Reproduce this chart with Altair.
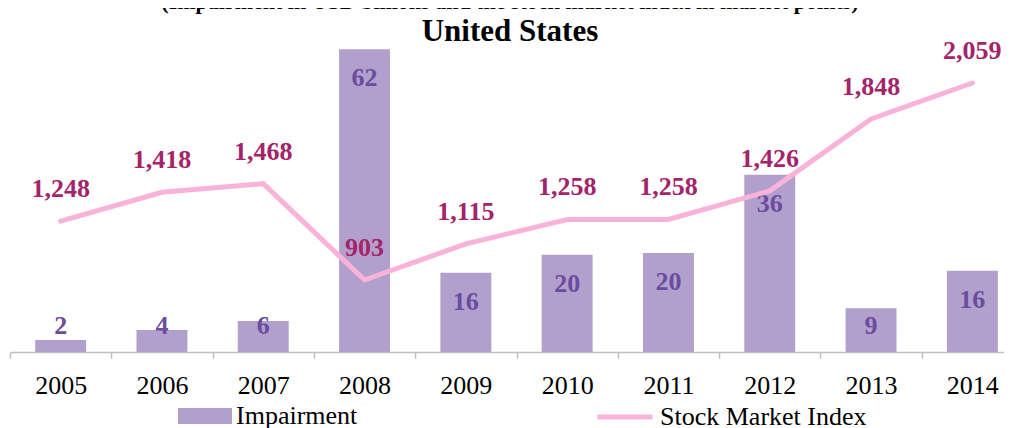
import altair as alt
import pandas as pd

# ---- data ----
years = ["2005", "2006", "2007", "2008", "2009", "2010", "2011", "2012", "2013", "2014"]
impairment = [2.45, 4.5, 6.35, 62.0, 16.25, 19.9, 20.3, 36.3, 8.95, 16.65]   # bar heights (USD bn)
impairment_labels = [2, 4, 6, 62, 16, 20, 20, 36, 9, 16]                  # printed labels
stock_index = [1248, 1418, 1468, 903, 1115, 1258, 1258, 1426, 1848, 2059]

title_line1 = "(Impairment in USD billions and the stock market index in market points)"
title_line2 = "United States"

BAR_COLOR = "#B2A0CC"
LINE_COLOR = "#F9B2D8"
BAR_LABEL_COLOR = "#6A4CA0"
LINE_LABEL_COLOR = "#A32469"
FONT = "Liberation Serif"

BAR_DOMAIN = [0, 62.27]
LINE_DOMAIN = [480.5, 2264.3]
PX_PER_UNIT = 304 / BAR_DOMAIN[1]

df = pd.DataFrame({
    "year": years,
    "impairment": impairment,
    "imp_label": impairment_labels,
    "stock_index": stock_index,
    "bar_series": "Impairment",
    "line_series": "Stock Market Index",
})

x_enc = alt.X(
    "year:N",
    sort=years,
    scale=alt.Scale(range=[0, 1013], paddingInner=0, paddingOuter=0),
    axis=alt.Axis(
        title=None, labelAngle=0, grid=False,
        domainColor="#BFBFBF", domainWidth=1.5,
        tickColor="#BFBFBF", tickWidth=1.5, tickSize=6, tickBand="extent",
        labelFont=FONT, labelFontSize=26, labelColor="black", labelPadding=14,
    ),
)

base = alt.Chart(df)

bars = base.mark_bar(width=alt.RelativeBandSize(0.503), color=BAR_COLOR).encode(
    x=x_enc,
    y=alt.Y("impairment:Q", scale=alt.Scale(domain=BAR_DOMAIN), axis=None),
    fill=alt.Fill(
        "bar_series:N",
        scale=alt.Scale(domain=["Impairment"], range=[BAR_COLOR]),
        legend=alt.Legend(
            title=None, orient="none", legendX=168, legendY=341, padding=0,
            symbolType="M-1,-0.3H1V0.3H-1Z", symbolSize=2916,
            symbolStrokeWidth=0, symbolOpacity=1,
            labelFont=FONT, labelFontSize=26, labelColor="black",
            labelOffset=4, labelLimit=400,
        ),
    ),
)

bar_text = base.transform_calculate(
    label_y=f"max(datum.impairment - {37 / PX_PER_UNIT}, {18 / PX_PER_UNIT})"
).mark_text(
    font=FONT, fontSize=26, fontWeight="bold", color=BAR_LABEL_COLOR,
    baseline="alphabetic", align="center",
).encode(
    x=x_enc,
    y=alt.Y("label_y:Q", scale=alt.Scale(domain=BAR_DOMAIN), axis=None),
    text=alt.Text("imp_label:Q", format="d"),
)

line = base.mark_line(strokeWidth=5, strokeCap="round").encode(
    x=x_enc,
    y=alt.Y("stock_index:Q", scale=alt.Scale(domain=LINE_DOMAIN), axis=None),
    stroke=alt.Stroke(
        "line_series:N",
        scale=alt.Scale(domain=["Stock Market Index"], range=[LINE_COLOR]),
        legend=alt.Legend(
            title=None, orient="none", legendX=585, legendY=339, padding=0,
            symbolType="stroke", symbolSize=3025, symbolStrokeWidth=5,
            labelFont=FONT, labelFontSize=26, labelColor="black",
            labelOffset=5, labelLimit=400,
        ),
    ),
)

line_text = base.mark_text(
    font=FONT, fontSize=26, fontWeight="bold", color=LINE_LABEL_COLOR,
    baseline="alphabetic", align="center", dy=-24,
).encode(
    x=x_enc,
    y=alt.Y("stock_index:Q", scale=alt.Scale(domain=LINE_DOMAIN), axis=None),
    text=alt.Text("stock_index:Q", format=","),
)

chart = alt.layer(bars, bar_text, line, line_text).resolve_scale(
    y="independent"
).properties(
    width=994,
    height=304,
    autosize=alt.AutoSizeParams(type="none"),
    padding={"left": 2, "top": 40, "right": 0, "bottom": 76},
    background="white",
    title=alt.TitleParams(
        text=title_line1,
        subtitle=title_line2,
        font=FONT, fontSize=22, fontWeight="bold", color="black",
        subtitleFont=FONT, subtitleFontSize=31, subtitleFontWeight="bold",
        subtitleColor="black", subtitlePadding=3,
        anchor="middle", offset=-10, dx=3,
    ),
).configure_view(stroke=None)

chart.save("out.html", embed_options={"renderer": "svg", "actions": False})
